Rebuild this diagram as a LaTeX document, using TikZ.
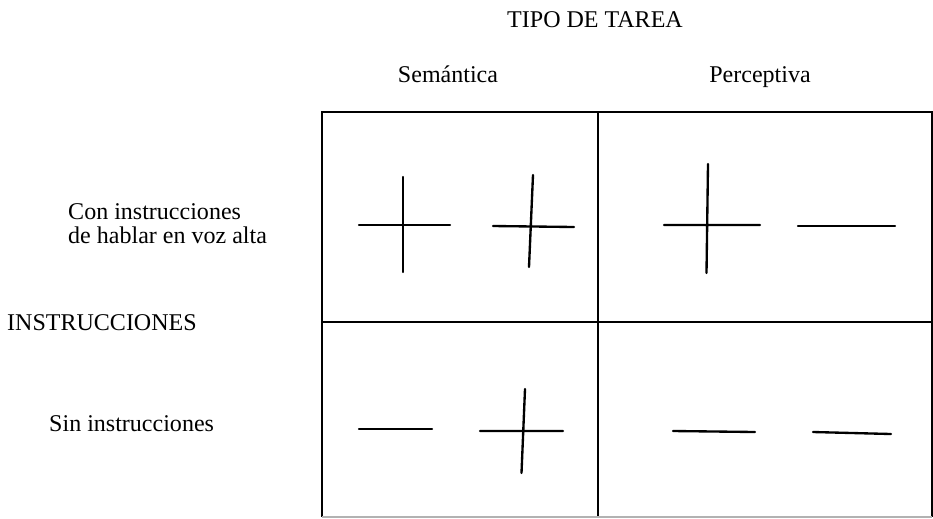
\documentclass[tikz,border=0pt]{standalone}
\usepackage{fontspec}
\setmainfont{Liberation Serif}
\usetikzlibrary{positioning}

\begin{document}
\begin{tikzpicture}[x=0.03cm, y=-0.03cm,
    every node/.style={font=\fontsize{20.5}{20.5}\selectfont, inner sep=0pt},
    grid/.style={line width=2.2pt},
    sign/.style={line width=2pt, line cap=round}]
    \useasboundingbox (0,0) rectangle (933,518);
    % labels
    \node (tipo) [anchor=base] at (595,27.5) {TIPO DE TAREA};
    \node (sem) [anchor=base] at (448,82) {Semántica};
    \node (perc) [anchor=base] at (760,82) {Perceptiva};
    \node (con) [anchor=north west, align=left] at (68,203.5) {Con instrucciones\\de hablar en voz alta};
    \node (instr) [anchor=base west] at (7,330.5) {INSTRUCCIONES};
    \node (sin) [anchor=base west] at (49,431.7) {Sin instrucciones};
    % table
    \coordinate (tl) at (322,112);
    \coordinate (tm) at (598,112);
    \coordinate (tr) at (932,112);
    \coordinate (ml) at (322,322);
    \coordinate (mr) at (932,322);
    \coordinate (bl) at (322,517);
    \coordinate (bm) at (598,517);
    \coordinate (br) at (932,517);
    \draw [grid] (bl) -- (tl) -- (tr) -- (br);
    \draw [grid] (tm) -- (bm);
    \draw [grid] (ml) -- (mr);
    \draw [grid, black!30] (bl) -- (br);
    % signs, top row
    \draw [sign] (359,225) -- (450,225) (403,177) -- (403,272);
    \draw [sign] (493,226) -- (574,227) (533,175) -- (529,267);
    \draw [sign] (664,225) -- (760,225) (708,164) -- (706.5,273);
    \draw [sign] (798,226) -- (895,226);
    % signs, bottom row
    \draw [sign] (359,429) -- (432,429);
    \draw [sign] (480,431) -- (563,431) (525,389) -- (521.5,473);
    \draw [sign] (673,431) -- (755,432);
    \draw [sign] (813,432) -- (891,434);
\end{tikzpicture}
\end{document}
